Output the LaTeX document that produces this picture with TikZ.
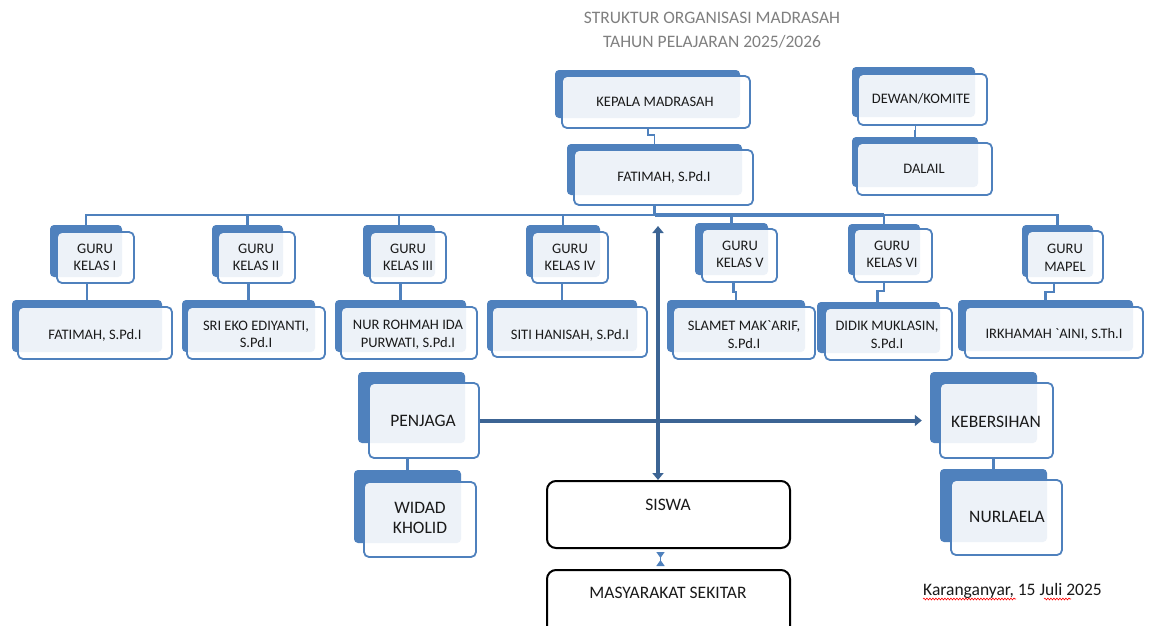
\documentclass[tikz,border=0pt]{standalone}
\usepackage{fontspec}
\setmainfont{Carlito}
\usetikzlibrary{fit,arrows.meta,decorations.pathmorphing}
\definecolor{boxblue}{HTML}{4F81BD}
\definecolor{arrowc}{HTML}{3C6494}
\definecolor{txtc}{HTML}{1A1A1A}
\definecolor{titlec}{HTML}{808080}
\newcommand\orgbox[5]{%
  \node[backbox, fit={#2}] (#1b) {};
  \node[frontbox, fit={#3}] (#1) {};
  \node[boxtext] (#1t) at #4 {#5};
}
\newcommand\orgboxL[5]{%
  \node[backbox, fit={#2}] (#1b) {};
  \node[frontbox, fit={#3}] (#1) {};
  \node[bigtext] (#1t) at #4 {#5};
}
\tikzset{
  backbox/.style={fill=boxblue, draw=none, rounded corners=4pt, inner sep=0pt},
  frontbox/.style={fill=white, fill opacity=0.9, draw=boxblue, draw opacity=1, line width=1.8pt, rounded corners=5pt, inner sep=0pt},
  boxtext/.style={font=\fontsize{14.5}{17.5}\selectfont, align=center, text=txtc, inner sep=0pt},
  bigtext/.style={font=\fontsize{17.5}{20}\selectfont, align=center, text=txtc, inner sep=0pt},
  link/.style={draw=boxblue, line width=2.2pt},
  bigarrow/.style={draw=arrowc, line width=4pt, arrows={-Triangle[length=7pt,width=11pt]}},
  plainbox/.style={draw=black, line width=2pt, rounded corners=9pt, inner sep=0pt},
  squig/.style={draw=red, line width=0.6pt, decorate, decoration={snake, amplitude=0.9pt, segment length=3pt}}
}
\begin{document}
\begin{tikzpicture}[x=1pt,y=-1pt]
\useasboundingbox (0,0) rectangle (1149,625);
\clip (0,0) rectangle (1149,625);
\fill[white] (0,0) rectangle (1149,625);

% title
\node[font=\fontsize{17.5}{24}\selectfont, text=titlec, align=center] (title) at (712,30)
  {STRUKTUR ORGANISASI MADRASAH\\TAHUN PELAJARAN 2025/2026};

% top boxes
\orgbox{kep}{(555,70) (740,118)}{(562,76) (750,128)}{(655,102)}{KEPALA MADRASAH}
\orgbox{fat}{(567,144) (742,195)}{(574,150) (753,205)}{(664,177)}{FATIMAH, S.Pd.I}
\orgbox{dew}{(852,67) (975,117)}{(858,74) (987,125)}{(921,99)}{DEWAN/KOMITE}
\orgbox{dal}{(852,137) (978,187)}{(857,143) (992,195)}{(924,169)}{DALAIL}

% guru boxes
\orgbox{ga}{(50,225) (122,277)}{(57,232) (134,283)}{(95,257.5)}{GURU\\KELAS I}
\orgbox{gb}{(212,225) (283,277)}{(218,232) (295,283)}{(256,257.5)}{GURU\\KELAS II}
\orgbox{gc}{(363,225) (435,277)}{(370,232) (446,283)}{(408,257.5)}{GURU\\KELAS III}
\orgbox{gd}{(526,225) (600,277)}{(532,232) (608,283)}{(570,257.5)}{GURU\\KELAS IV}
\orgbox{ge}{(695,223) (768,275)}{(702,229) (777,282)}{(740,254.5)}{GURU\\KELAS V}
\orgbox{gf}{(848,224) (920,275)}{(854,229) (932,282)}{(892,254.5)}{GURU\\KELAS VI}
\orgbox{gg}{(1022,225) (1093,277)}{(1027,231) (1103,283)}{(1065,258)}{GURU\\MAPEL}

% name boxes
\orgbox{na}{(12,300) (162,352)}{(18,307) (172,359)}{(95,335)}{FATIMAH, S.Pd.I}
\orgbox{nb}{(182,300) (315,352)}{(187,307) (325,359)}{(256,334.5)}{SRI EKO EDIYANTI,\\S.Pd.I}
\orgbox{nc}{(335,300) (466,352)}{(341,307) (477,359)}{(408,334.5)}{NUR ROHMAH IDA\\PURWATI, S.Pd.I}
\orgbox{nd}{(487,300) (637,351)}{(492,307) (647,357)}{(570,335)}{SITI HANISAH, S.Pd.I}
\orgbox{ne}{(667,300) (805,352)}{(673,307) (815,359)}{(744,334.5)}{SLAMET MAK\textasciigrave ARIF,\\S.Pd.I}
\orgbox{nf}{(817,302) (940,353)}{(825,308) (952,360)}{(887,335)}{DIDIK MUKLASIN,\\S.Pd.I}
\orgbox{ng}{(958,300) (1133,351)}{(965,307) (1143,358)}{(1054,334)}{IRKHAMAH \textasciigrave AINI, S.Th.I}

% lower boxes
\orgboxL{pen}{(358,372) (465,443)}{(369,383) (479,458)}{(423,421)}{PENJAGA}
\orgboxL{wid}{(354,470) (461,543)}{(364,482) (476,557)}{(420,518)}{WIDAD\\KHOLID}
\orgboxL{keb}{(930,372) (1037,443)}{(940,383) (1053,458)}{(996,422)}{KEBERSIHAN}
\orgboxL{nur}{(940,469) (1047,542)}{(951,480) (1062,555)}{(1007,517)}{NURLAELA}

\node[plainbox, fit={(547,481) (790,548)}] (siswa) {};
\node[bigtext] (siswat) at (668,505) {SISWA};
\node[plainbox, fit={(547,570) (790,650)}] (masy) {};
\node[bigtext] (masyt) at (668,593) {MASYARAKAT SEKITAR};

% connectors top
\draw[link, line width=1.6pt] ([xshift=-8pt]kep.south) -- ++(0,6) -| (fatb.north);
\draw[link, line width=1.6pt] ([xshift=-7pt]dew.south) -- ++(0,5) -| (dalb.north);

% bus
\coordinate (busj) at ([xshift=-9pt]fat.south);
\coordinate (busy) at ([yshift=-9pt]busj);
\foreach \g in {ga,gb,gc,gd,ge,gf,gg}{
  \draw[link] (busj) -- (busy) -| (\g b.north);
}
\draw[link, line width=3.6pt] (busy) -- (busy -| gfb.north);

% guru -> names
\foreach \g/\n in {ga/na,gb/nb,gc/nc,gd/nd}{
  \draw[link] (\g.south -| \n b.north) -- (\n b.north);
}
\draw[link] ([xshift=-6pt]ge.south) -- ++(0,9) -| (neb.north);
\draw[link] ([xshift=-9pt]gf.south) -- ++(0,8) -| ([xshift=-1pt]nfb.north);
\draw[link] ([xshift=-11pt]gg.south) -- ++(0,8) -| (ngb.north);

% lower connectors
\draw[link] (pen.south -| widb.north) -- (widb.north);
\draw[link] (keb.south -| nurb.north) -- (nurb.north);

% arrows
\coordinate (vtop) at (658,226);
\draw[bigarrow, arrows={Triangle[length=7pt,width=11pt]-Triangle[length=7pt,width=11pt]}] (vtop) -- (vtop |- siswa.north);
\draw[bigarrow] (pen.east) -- ([xshift=-8pt]kebb.west |- pen.east);
\draw[draw=boxblue, line width=1.5pt, arrows={Triangle[reversed,length=6pt,width=8pt]-Triangle[reversed,length=6pt,width=8pt]},
  shorten <=3pt, shorten >=3pt] ([xshift=-8pt]siswa.south) -- ([xshift=-8pt]siswa.south |- masy.north);

% date
\node[font=\fontsize{17.5}{20}\selectfont, text=txtc, anchor=base west, inner sep=0pt] (date) at (923,595) {Karanganyar, 15 Juli 2025};
\draw[squig] (923,599) -- (1016,599);
\draw[squig] (1044,599) -- (1071,599);
\end{tikzpicture}
\end{document}
